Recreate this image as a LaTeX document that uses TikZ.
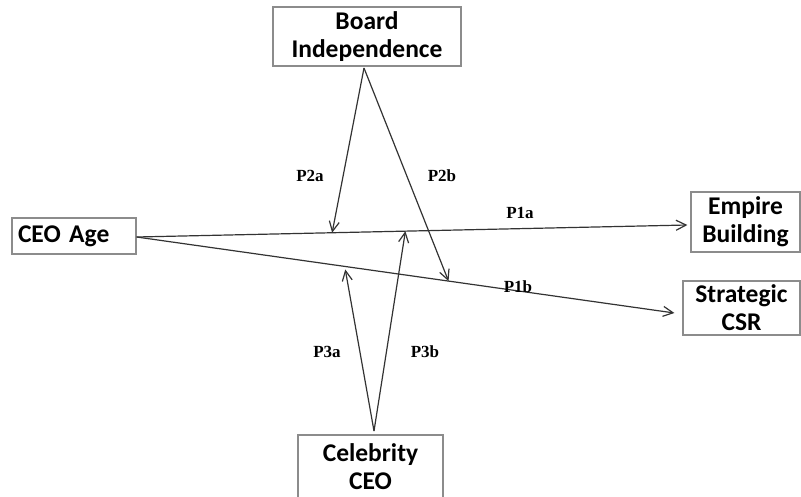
\documentclass[tikz,border=0pt]{standalone}
\usepackage{fontspec}
\newfontfamily\boxfont{Carlito}
\newfontfamily\labelfont{Liberation Serif}
\usetikzlibrary{calc,arrows.meta,positioning}

\begin{document}
\begin{tikzpicture}[x=1pt, y=-1pt,
conceptbox/.style={rectangle, draw=black!45, line width=1.2pt, align=center, inner sep=0pt,
  font=\boxfont\bfseries\fontsize{25.5}{28}\selectfont},
proplabel/.style={font=\labelfont\bfseries\fontsize{17}{19}\selectfont, inner sep=1pt},
link/.style={draw=black!80, line width=1.2pt, -{Straight Barb[length=10pt, width=10pt, line width=1.2pt]}}
]
\useasboundingbox (0,0) rectangle (801,497);

%Nodes
\node[conceptbox, minimum width=188pt, minimum height=59pt] (board) at (367,36.5) {Board\\Independence};
\node[conceptbox, text width=112pt, align=left, inner xsep=6pt, minimum height=36pt] (age) at (74,236) {CEO Age};
\node[conceptbox, minimum width=109pt, minimum height=60pt] (empire) at (745.5,222) {Empire\\Building};
\node[conceptbox, minimum width=117pt, minimum height=54pt] (csr) at (741.5,308) {Strategic\\CSR};
\node[conceptbox, minimum width=145pt, minimum height=64pt] (celeb) at (370.5,467) {Celebrity\\CEO};

%Points on the paths
\coordinate (startA) at ($(age.east)+(0,1)$);
\coordinate (endA) at ($(empire.west)+(-3,3)$);
\coordinate (endB) at ($(csr.west)+(-8,5)$);
\coordinate (boardtip) at (364,68);
\coordinate (celebtip) at (374,431);
\coordinate (hitTwoA) at ($(startA)!0.355!(endA)$);
\coordinate (hitThreeB) at ($(startA)!0.488!(endA)$);
\coordinate (hitTwoB) at ($(startA)!0.58!(endB)$);
\coordinate (hitThreeA) at ($(startA)!0.388!(endB)+(0,3)$);

%Lines
\draw[link] (startA) -- (endA);
\draw[link] (startA) -- (endB);
\draw[link] (boardtip) -- (hitTwoA);
\draw[link] (boardtip) -- (hitTwoB);
\draw[link] (celebtip) -- (hitThreeA);
\draw[link] (celebtip) -- (hitThreeB);

%Labels
\node[proplabel] (p2a) at (310,176) {P2a};
\node[proplabel] (p2b) at (442,176) {P2b};
\node[proplabel] (p1a) at (520,213) {P1a};
\node[proplabel] (p1b) at (518,287) {P1b};
\node[proplabel] (p3a) at (327,352) {P3a};
\node[proplabel] (p3b) at (425,352) {P3b};

\end{tikzpicture}
\end{document}
